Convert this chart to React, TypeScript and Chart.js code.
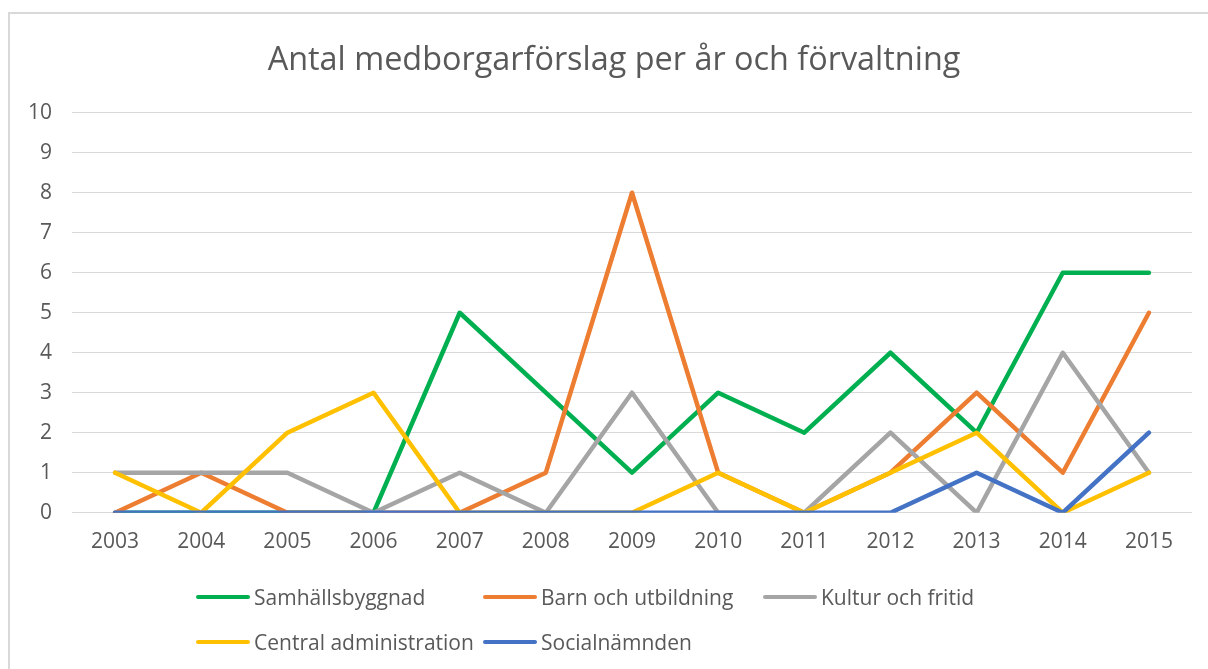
import React, { useEffect, useRef } from "react";
import { Chart, registerables } from "chart.js";

Chart.register(...registerables);

const years = ["2003", "2004", "2005", "2006", "2007", "2008", "2009", "2010", "2011", "2012", "2013", "2014", "2015"];
const samhallsbyggnad = [0, 0, 0, 0, 5, 3, 1, 3, 2, 4, 2, 6, 6];
const barnOchUtbildning = [0, 1, 0, 0, 0, 1, 8, 1, 0, 1, 3, 1, 5];
const kulturOchFritid = [1, 1, 1, 0, 1, 0, 3, 0, 0, 2, 0, 4, 1];
const centralAdministration = [1, 0, 2, 3, 0, 0, 0, 1, 0, 1, 2, 0, 1];
const socialnamnden = [0, 0, 0, 0, 0, 0, 0, 0, 0, 0, 1, 0, 2];

const seriesNames = ["Samhällsbyggnad", "Barn och utbildning", "Kultur och fritid", "Central administration", "Socialnämnden"];
const seriesValues = [samhallsbyggnad, barnOchUtbildning, kulturOchFritid, centralAdministration, socialnamnden];
const seriesColors = ["#00b050", "#ed7d31", "#a5a5a5", "#ffc000", "#4472c4"];

const yMin = 0;
const yMax = 10;
const titleText = "Antal medborgarförslag per år och förvaltning";

const FONT = "'Open Sans', sans-serif";
const TEXT = "#595959";

const legendCols = [196, 483, 763];
const legendRows = [597, 642];

export default function App() {
  const canvasRef = useRef<HTMLCanvasElement | null>(null);

  useEffect(() => {
    document.body.style.overflow = "hidden";
    const canvas = canvasRef.current;
    if (!canvas) return;
    const widenYLabelArea = {
      id: "widenYLabelArea",
      afterLayout(c: any) {
        if (c.scales && c.scales.y) c.scales.y.left = 0;
      },
    };
    const chart = new Chart(canvas, {
      type: "line",
      data: {
        labels: years,
        datasets: seriesNames.map((name, i) => ({
          label: name,
          data: seriesValues[i],
          borderColor: seriesColors[i],
          backgroundColor: seriesColors[i],
          borderWidth: 4.5,
          borderJoinStyle: "round" as const,
          borderCapStyle: "round" as const,
          pointRadius: 0,
          pointHoverRadius: 0,
          tension: 0,
          fill: false,
          order: seriesNames.length - i,
        })),
      },
      options: {
        responsive: false,
        animation: false,
        layout: { padding: { left: 36, right: 16, top: 0, bottom: 100 } },
        plugins: {
          legend: { display: false },
          tooltip: { enabled: false },
          title: {
            display: true,
            text: titleText,
            color: TEXT,
            font: { family: FONT, size: 32.4, weight: "normal", lineHeight: 1.2 },
            padding: { top: 41.5, bottom: 32.4 },
          },
        },
        scales: {
          x: {
            offset: true,
            grid: { display: false, drawTicks: false },
            border: { display: false },
            ticks: { color: TEXT, font: { family: FONT, size: 21 }, padding: 17, maxRotation: 0, autoSkip: false },
            afterFit: (s: any) => {
              s.height = 56.3;
            },
          },
          y: {
            min: yMin,
            max: yMax,
            grid: { color: "#d9d9d9", lineWidth: 1, drawTicks: false },
            border: { display: false },
            ticks: { stepSize: 1, color: TEXT, font: { family: FONT, size: 21 }, padding: 20 },
            afterFit: (s: any) => {
              s.width = 36;
            },
          },
        },
      },
      plugins: [widenYLabelArea],
    });
    return () => chart.destroy();
  }, []);

  return (
    <div>
      <div
        style={{
          position: "fixed",
          left: 8,
          top: 12,
          width: 1300,
          height: 800,
          border: "2px solid #d9d9d9",
          boxSizing: "border-box",
          background: "#fff",
        }}
      />
      <canvas
        ref={canvasRef}
        width={1208}
        height={669}
        style={{ position: "fixed", left: 0, top: 0, width: 1208, height: 669 }}
      />
      {seriesNames.map((name, i) => {
        const col = i < 3 ? i : i - 3;
        const row = i < 3 ? 0 : 1;
        return (
          <div
            key={name}
            style={{
              position: "fixed",
              left: legendCols[col],
              top: legendRows[row] - 15,
              height: 30,
              display: "flex",
              alignItems: "center",
              fontFamily: FONT,
              fontSize: 21,
              color: TEXT,
              whiteSpace: "nowrap",
            }}
          >
            <span
              style={{
                display: "inline-block",
                width: 54,
                height: 4,
                borderRadius: 2,
                background: seriesColors[i],
                marginRight: 4,
              }}
            />
            <span>{name}</span>
          </div>
        );
      })}
    </div>
  );
}
